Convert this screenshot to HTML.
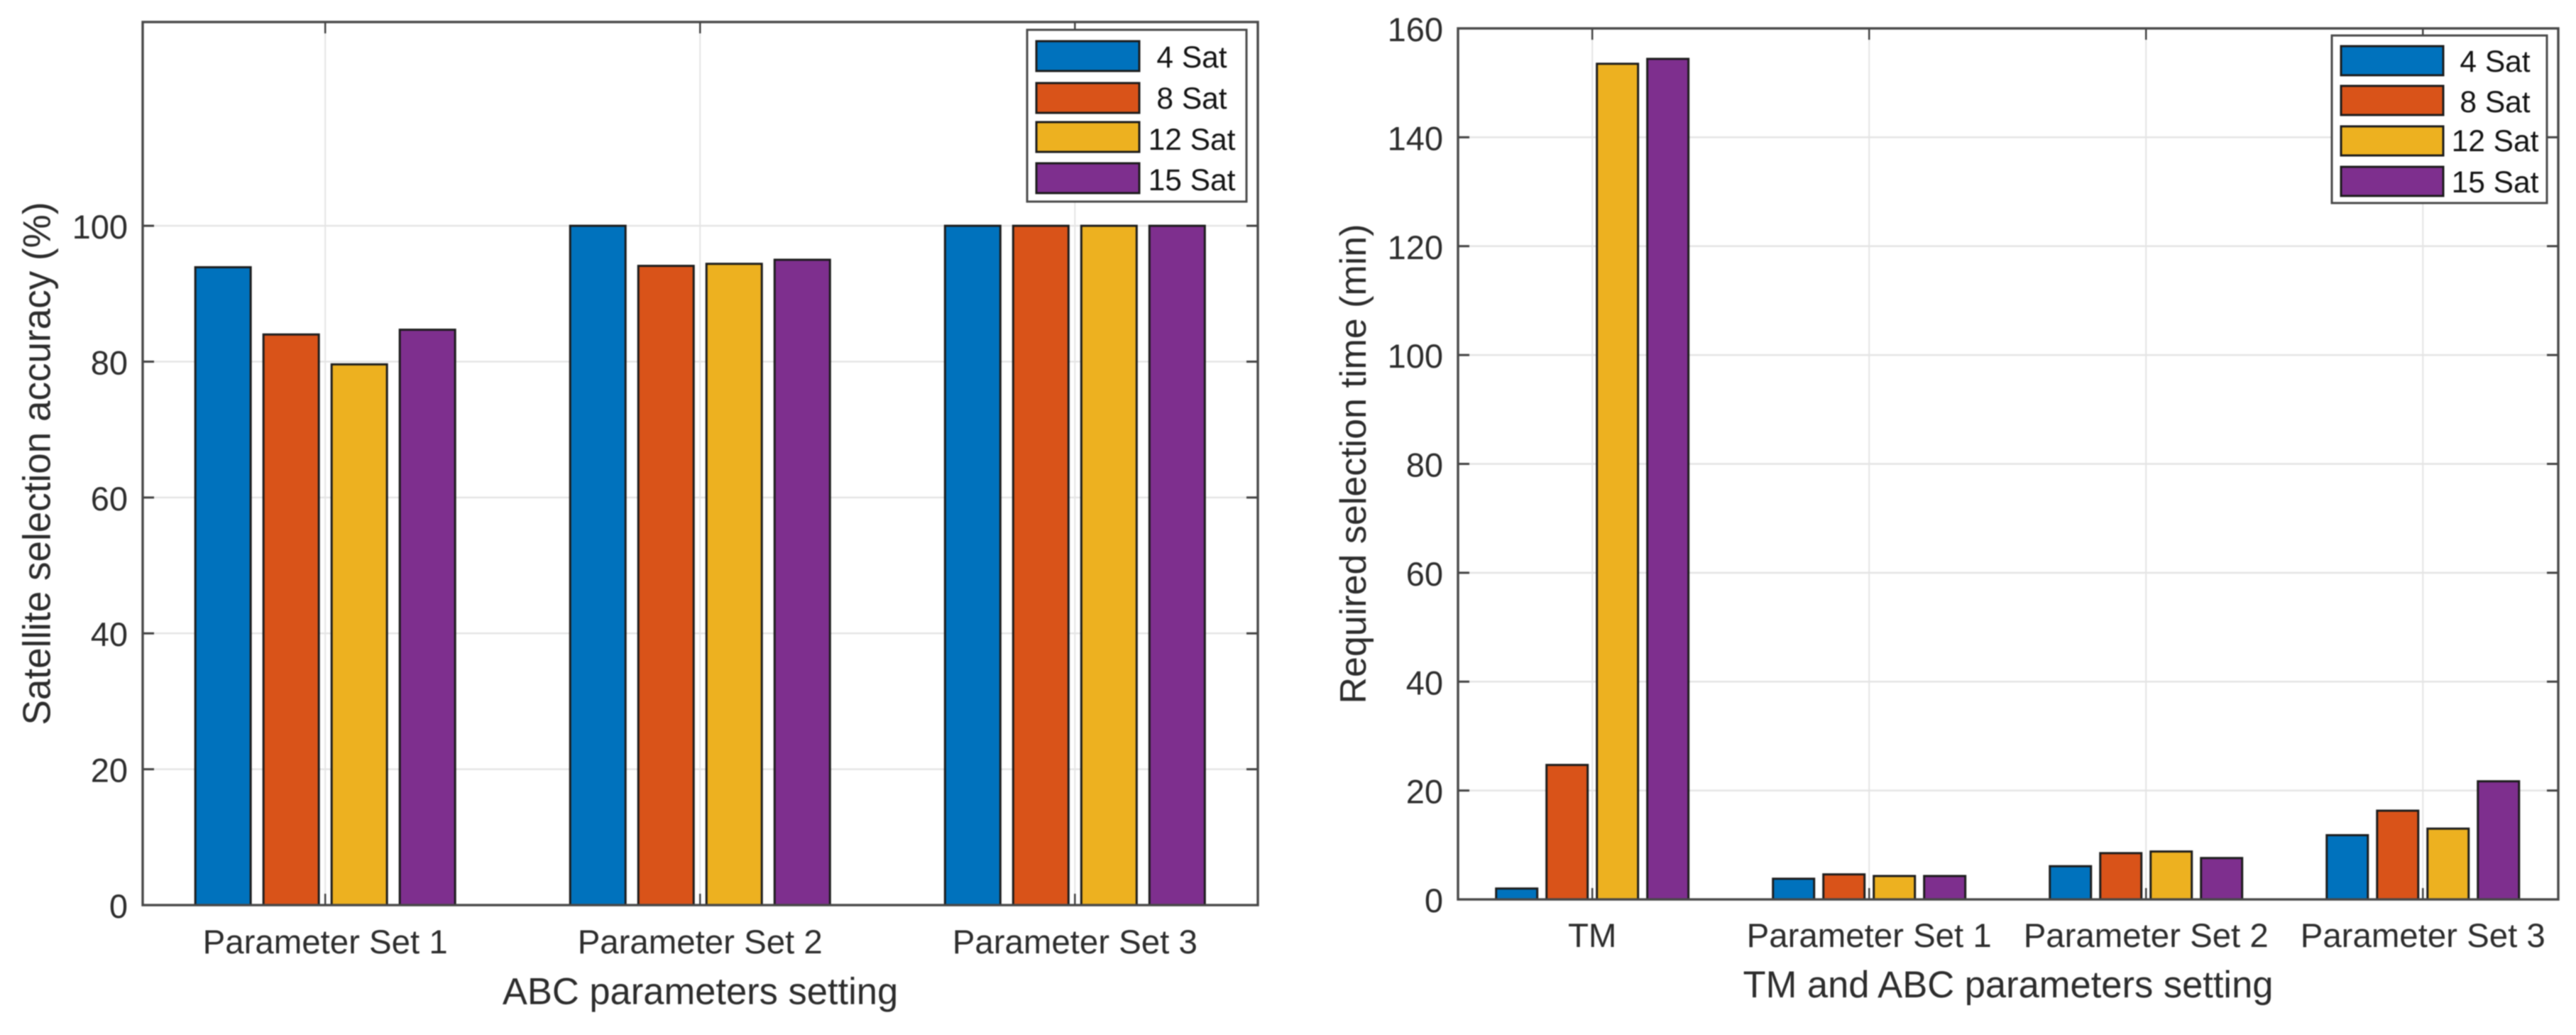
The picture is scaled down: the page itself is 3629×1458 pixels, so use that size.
<!DOCTYPE html>
<html lang="en">
<head>
<meta charset="utf-8">
<title>Satellite selection accuracy and required selection time</title>
<style>
  html, body { margin: 0; padding: 0; background: #ffffff; }
  body { width: 3629px; height: 1458px; overflow: hidden; }
  svg { display: block; font-family: "Liberation Sans", Arial, sans-serif; filter: blur(0.8px); }
</style>
</head>
<body>
<svg id="figure" xmlns="http://www.w3.org/2000/svg" width="3629" height="1458" viewBox="0 0 3629 1458"></svg>
<script>
const seriesNames = ['4 Sat', '8 Sat', '12 Sat', '15 Sat'];
const seriesColors = ['#0072BD', '#D95319', '#EDB120', '#7E2F8E'];

const accuracyCategories = ['Parameter Set 1', 'Parameter Set 2', 'Parameter Set 3'];
const accuracy4Sat = [93.9, 100, 100];
const accuracy8Sat = [84, 94.1, 100];
const accuracy12Sat = [79.6, 94.4, 100];
const accuracy15Sat = [84.7, 95, 100];
const accuracyYTicks = [0, 20, 40, 60, 80, 100];

const timeCategories = ['TM', 'Parameter Set 1', 'Parameter Set 2', 'Parameter Set 3'];
const time4Sat = [2, 3.8, 6.1, 11.8];
const time8Sat = [24.7, 4.6, 8.5, 16.3];
const time12Sat = [153.5, 4.3, 8.8, 13];
const time15Sat = [154.4, 4.3, 7.6, 21.7];
const timeYTicks = [0, 20, 40, 60, 80, 100, 120, 140, 160];

const NS = 'http://www.w3.org/2000/svg';
const figure = document.getElementById('figure');

function mk(parent, tag, attrs, text) {
  const node = document.createElementNS(NS, tag);
  for (const key in attrs) node.setAttribute(key, attrs[key]);
  if (text !== undefined) node.textContent = text;
  parent.appendChild(node);
  return node;
}

function drawChart(cfg) {
  const root = mk(figure, 'g', {});
  
  

  const x = v => cfg.left + (v - cfg.xMin) / (cfg.xMax - cfg.xMin) * (cfg.right - cfg.left);
  const y = v => cfg.bottom - (v - cfg.yMin) / (cfg.yMax - cfg.yMin) * (cfg.bottom - cfg.top);
  const step = x(2) - x(1);
  let el;

  // plot background
  el = mk(root, 'rect', { x: cfg.left, y: cfg.top, width: cfg.right - cfg.left, height: cfg.bottom - cfg.top, fill: '#ffffff' });
  
  

  // grid lines
  cfg.yTicks.forEach(t => {
    el = mk(root, 'line', { x1: cfg.left, x2: cfg.right, y1: y(t), y2: y(t), stroke: '#e4e4e4', 'stroke-width': 2.4 });
    
    
  });
  cfg.categories.forEach((c, i) => {
    el = mk(root, 'line', { x1: x(i + 1), x2: x(i + 1), y1: cfg.top, y2: cfg.bottom, stroke: '#e4e4e4', 'stroke-width': 2 });
    
    
  });

  // bars
  cfg.series.forEach((values, s) => {
    const group = mk(root, 'g', {});
    
    
    values.forEach((v, i) => {
      const center = x(i + 1) + (s - 1.5) * cfg.barOffset * step;
      const w = cfg.barWidth * step;
      el = mk(group, 'rect', {
        x: center - w / 2, y: y(v), width: w, height: y(0) - y(v),
        fill: seriesColors[s], stroke: '#1c1c1c', 'stroke-width': 3
      });
      
      
    });
  });

  // tick marks
  const tickLen = 16;
  cfg.yTicks.forEach(t => {
    el = mk(root, 'line', { x1: cfg.left, x2: cfg.left + tickLen, y1: y(t), y2: y(t), stroke: '#404040', 'stroke-width': 3 });
    
    
    el = mk(root, 'line', { x1: cfg.right - tickLen, x2: cfg.right, y1: y(t), y2: y(t), stroke: '#404040', 'stroke-width': 3 });
    
    
    el = mk(root, 'text', { x: cfg.left - 21, y: y(t) + 18, 'text-anchor': 'end', 'font-size': 47, fill: '#2c2c2c' }, String(t));
    
    
  });
  cfg.categories.forEach((c, i) => {
    el = mk(root, 'line', { x1: x(i + 1), x2: x(i + 1), y1: cfg.bottom - tickLen, y2: cfg.bottom, stroke: '#404040', 'stroke-width': 2.5 });
    
    
    el = mk(root, 'line', { x1: x(i + 1), x2: x(i + 1), y1: cfg.top, y2: cfg.top + tickLen, stroke: '#404040', 'stroke-width': 2.5 });
    
    
    el = mk(root, 'text', { x: x(i + 1), y: cfg.tickBaseline, 'text-anchor': 'middle', 'font-size': 47.4, fill: '#2c2c2c' }, c);
    
    
  });

  // axes box
  el = mk(root, 'rect', { x: cfg.left, y: cfg.top, width: cfg.right - cfg.left, height: cfg.bottom - cfg.top, fill: 'none', stroke: '#484848', 'stroke-width': 3.4 });
  
  

  // axis titles
  el = mk(root, 'text', { x: (cfg.left + cfg.right) / 2, y: cfg.xTitleBaseline, 'text-anchor': 'middle', 'font-size': 52.5, fill: '#2c2c2c' }, cfg.xTitle);
  
  
  el = mk(root, 'text', {
    x: 0, y: 0, 'text-anchor': 'middle', 'font-size': cfg.yTitleSize, fill: '#2c2c2c',
    textLength: cfg.yTitleLength, lengthAdjust: 'spacingAndGlyphs',
    transform: 'translate(' + cfg.yTitleX + ' ' + (cfg.top + cfg.bottom) / 2 + ') rotate(-90)'
  }, cfg.yTitle);
  
  

  // legend
  const legend = mk(root, 'g', {});
  
  
  const lg = cfg.legend;
  el = mk(legend, 'rect', { x: lg.left, y: lg.top, width: lg.right - lg.left, height: lg.bottom - lg.top, fill: '#ffffff', stroke: '#4a4a4a', 'stroke-width': 3 });
  
  
  seriesNames.forEach((name, s) => {
    const entry = mk(legend, 'g', {});
    
    
    el = mk(entry, 'rect', { x: lg.swatchLeft, y: lg.swatchTop[s], width: lg.swatchRight - lg.swatchLeft, height: lg.swatchHeight, fill: seriesColors[s], stroke: '#1c1c1c', 'stroke-width': 3 });
    
    
    el = mk(entry, 'text', { x: lg.textCenter, y: lg.baseline[s], 'text-anchor': 'middle', 'font-size': 42.5, fill: '#141414' }, name);
    
    
  });
}

drawChart({
  name: 'accuracy-chart',
  categories: accuracyCategories,
  series: [accuracy4Sat, accuracy8Sat, accuracy12Sat, accuracy15Sat],
  yTicks: accuracyYTicks,
  xTitle: 'ABC parameters setting',
  yTitle: 'Satellite selection accuracy (%)',
  yTitleSize: 54.5,
  yTitleLength: 737,
  yTitleX: 70.5,
  left: 201, right: 1772, top: 31, bottom: 1275,
  xMin: 0.513, xMax: 3.488, yMin: 0, yMax: 130,
  barOffset: 0.1818, barWidth: 0.1477,
  tickBaseline: 1343, xTitleBaseline: 1414.5,
  legend: {
    left: 1447, right: 1756, top: 42, bottom: 284,
    swatchLeft: 1460, swatchRight: 1605, swatchHeight: 42,
    swatchTop: [58, 117, 172, 230],
    textCenter: 1679, baseline: [95, 153, 211, 268]
  }
});

drawChart({
  name: 'selection-time-chart',
  categories: timeCategories,
  series: [time4Sat, time8Sat, time12Sat, time15Sat],
  yTicks: timeYTicks,
  xTitle: 'TM and ABC parameters setting',
  yTitle: 'Required selection time (min)',
  yTitleSize: 52,
  yTitleLength: 676,
  yTitleX: 1924,
  left: 2054, right: 3604, top: 40, bottom: 1267,
  xMin: 0.515, xMax: 4.489, yMin: 0, yMax: 160,
  barOffset: 0.182, barWidth: 0.1487,
  tickBaseline: 1334, xTitleBaseline: 1405,
  legend: {
    left: 3285, right: 3588, top: 50, bottom: 286,
    swatchLeft: 3298, swatchRight: 3442, swatchHeight: 41,
    swatchTop: [65, 121, 178, 235],
    textCenter: 3515, baseline: [101, 158, 213, 271]
  }
});
</script>
</body>
</html>
